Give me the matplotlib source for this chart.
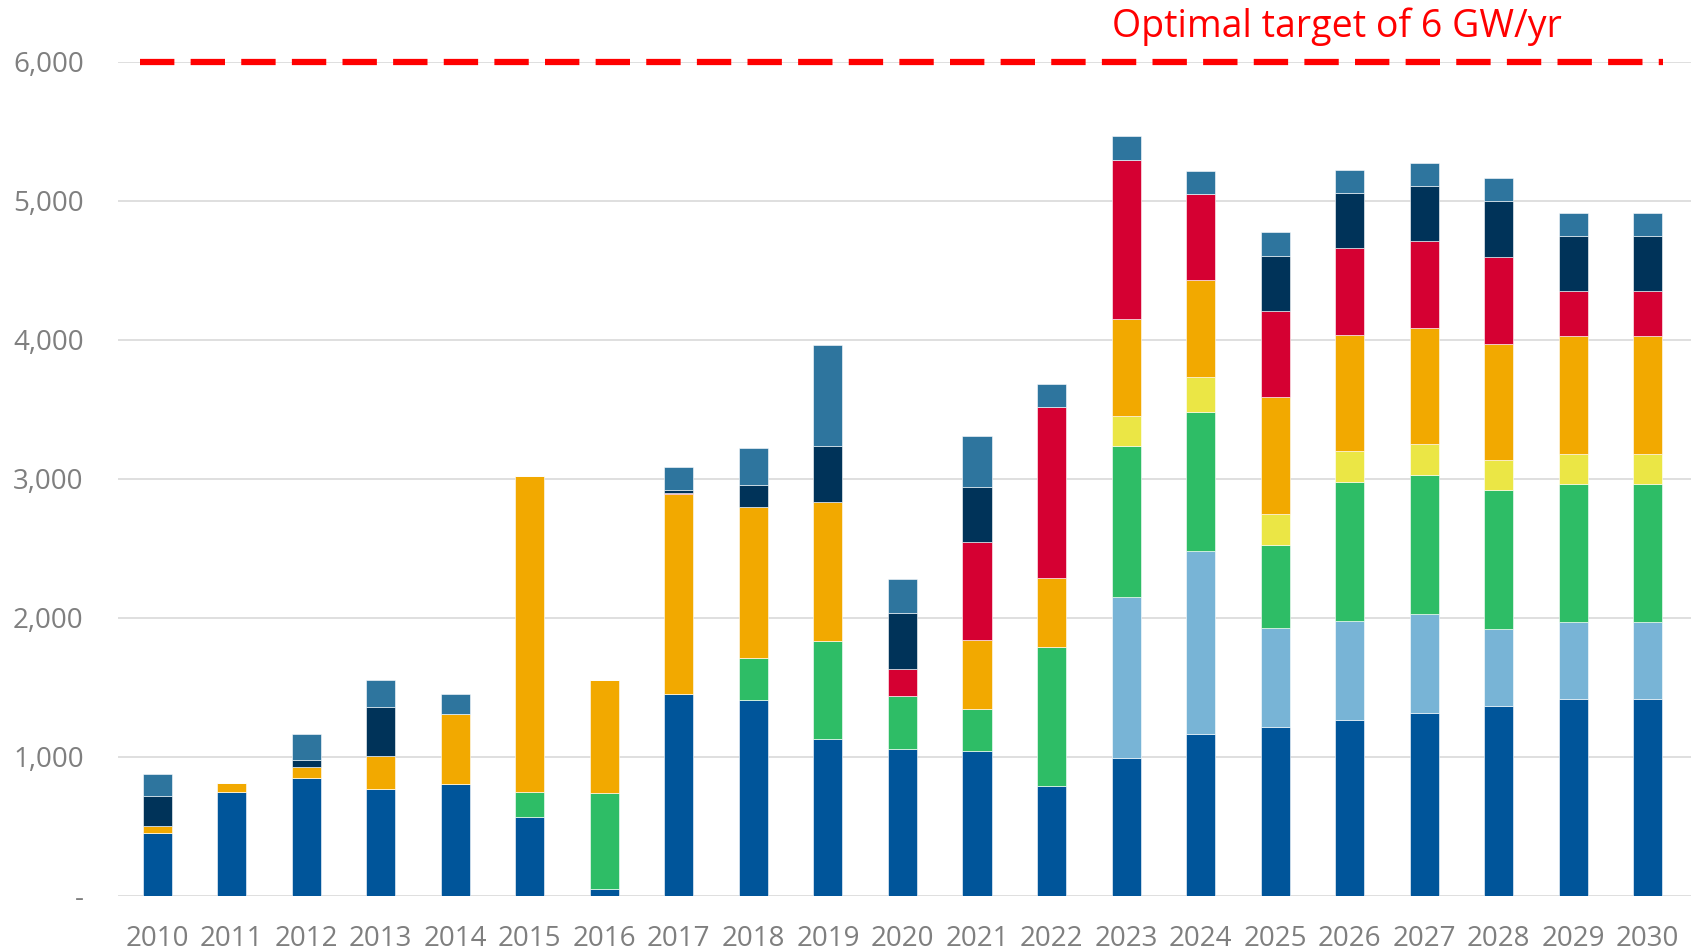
import matplotlib
matplotlib.use("Agg")
import matplotlib.pyplot as plt
import numpy as np

plt.rcParams['font.family'] = ['Open Sans', 'DejaVu Sans']

years = [str(y) for y in range(2010, 2031)]

# stacked segments, bottom to top (MW per year)
s_darkblue = [455, 750, 850, 770, 805, 565, 50, 1450, 1410, 1130, 1057, 1042, 790, 990, 1167, 1218, 1265, 1315, 1366, 1417, 1417]
s_lightblue = [0, 0, 0, 0, 0, 0, 0, 0, 0, 0, 0, 0, 0, 1163, 1312, 710, 714, 715, 554, 550, 550]
s_green = [0, 0, 0, 0, 0, 180, 690, 0, 300, 700, 380, 300, 1000, 1082, 1000, 597, 1000, 1000, 1000, 995, 995]
s_yellow = [0, 0, 0, 0, 0, 0, 0, 0, 0, 0, 0, 0, 0, 218, 250, 223, 219, 218, 218, 219, 219]
s_orange = [50, 60, 80, 235, 500, 2275, 815, 1440, 1090, 1000, 0, 500, 500, 700, 698, 840, 839, 840, 835, 843, 843]
s_red = [0, 0, 0, 0, 0, 0, 0, 5, 0, 0, 197, 700, 1225, 1140, 620, 620, 621, 620, 625, 324, 324]
s_navy = [210, 0, 50, 355, 0, 0, 0, 25, 155, 405, 400, 397, 0, 0, 0, 398, 398, 398, 398, 398, 398]
s_steel = [160, 0, 185, 190, 145, 0, 0, 165, 270, 730, 245, 370, 168, 172, 170, 168, 168, 168, 168, 168, 168]

series = [s_darkblue, s_lightblue, s_green, s_yellow, s_orange, s_red, s_navy, s_steel]
colors = ['#00559a', '#78b4d6', '#2ebd66', '#ebe645', '#f2a900', '#d50032', '#003359', '#2e759e']

target = 6000

fig = plt.figure(figsize=(16.91, 9.51), dpi=100)
ax = fig.add_axes([0.07, 0.058, 0.93, 0.877])

x = np.arange(len(years))
bottom = np.zeros(len(years))
for vals, col in zip(series, colors):
    vals = np.array(vals, dtype=float)
    ax.bar(x, vals, 0.39, bottom=bottom, color=col, edgecolor='white', linewidth=0.4, zorder=3)
    bottom += vals

ax.plot([-0.23, len(years) - 0.8], [target, target], color='#ff0000', lw=4.5,
        dashes=(5.5, 2.6), zorder=4, clip_on=False)
ax.text(15.83, target + 255, 'Optimal target of 6 GW/yr', color='#ff0000', fontsize=27,
        ha='center', va='center', clip_on=False)

ax.set_xlim(-0.52, len(years) - 0.42)
ax.set_ylim(0, 6000)
ax.set_yticks(range(0, 6001, 1000))
ax.set_yticklabels(['-'] + ['{:,}'.format(v) for v in range(1000, 6001, 1000)])
ax.set_xticks(x)
ax.set_xticklabels(years)
ax.grid(axis='y', color='#d9d9d9', lw=1.2, zorder=0)
for s in ax.spines.values():
    s.set_visible(False)
ax.tick_params(axis='both', length=0, labelsize=20, labelcolor='#7f7f7f')
ax.tick_params(axis='y', pad=25)
ax.tick_params(axis='x', pad=21)

fig.savefig('out.png', dpi=100)
